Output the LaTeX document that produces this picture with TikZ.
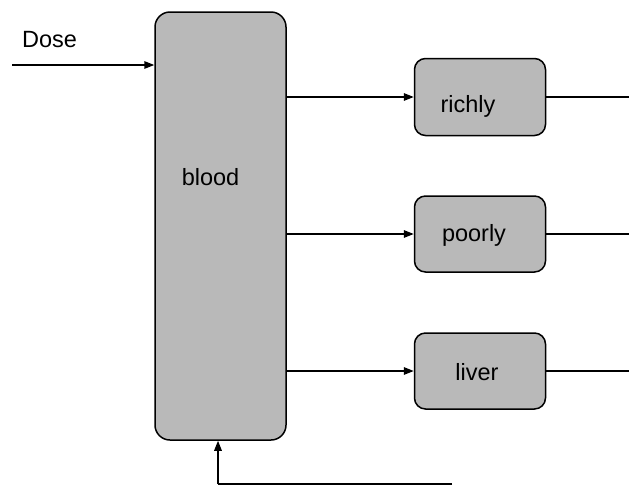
\documentclass[tikz,border=0pt]{standalone}
\usepackage{fontspec}
\setmainfont{Liberation Sans}
\usetikzlibrary{arrows.meta}

\begin{document}
\begin{tikzpicture}[x=1pt,y=-1pt]
\tikzstyle{every node}+=[inner sep=0pt]
\tikzstyle{organ}=[draw=black, line width=1.5pt, fill=gray!55, rounded corners=11pt, minimum width=131pt]
\tikzstyle{lbl}=[font=\fontsize{23.5}{28}\selectfont]
\tikzstyle{flow}=[line width=1.5pt, -{Triangle[length=10pt,width=7.5pt]}]
\tikzstyle{wire}=[line width=1.5pt]
\useasboundingbox (0,0) rectangle (629,485);
% compartments
\node [organ, rounded corners=15pt, minimum height=428pt, label={[lbl, xshift=-10pt, yshift=48.5pt]center:blood}] (blood) at (220.5,226) {};
\node [organ, minimum height=77pt, label={[lbl, xshift=-12pt, yshift=-9pt]center:richly}] (richly) at (480,97) {};
\node [organ, minimum height=76pt, label={[lbl, xshift=-6pt, yshift=-1pt]center:poorly}] (poorly) at (480,234) {};
\node [organ, minimum height=76pt, label={[lbl, xshift=-3pt, yshift=-1pt]center:liver}] (liver) at (480,371) {};
% dose input
\node [lbl] (dose) at (49.5,40) {Dose};
\coordinate (din) at (12,65);
\draw [flow] (din) -- (din -| blood.west);
% blood to organs
\draw [flow] (blood.east |- richly) -- (richly.west);
\draw [flow] (blood.east |- poorly) -- (poorly.west);
\draw [flow] (blood.east |- liver) -- (liver.west);
% organ outflows
\coordinate (rout) at (629,97);
\coordinate (pout) at (629,234);
\coordinate (lout) at (629,371);
\draw [wire] (richly.east) -- (rout);
\draw [wire] (poorly.east) -- (pout);
\draw [wire] (liver.east) -- (lout);
% return to blood
\coordinate (ret) at (218,484);
\coordinate (retend) at (452,484);
\draw [wire] (retend) -- (ret);
\draw [flow] (ret) -- (ret |- blood.south);
\end{tikzpicture}
\end{document}
